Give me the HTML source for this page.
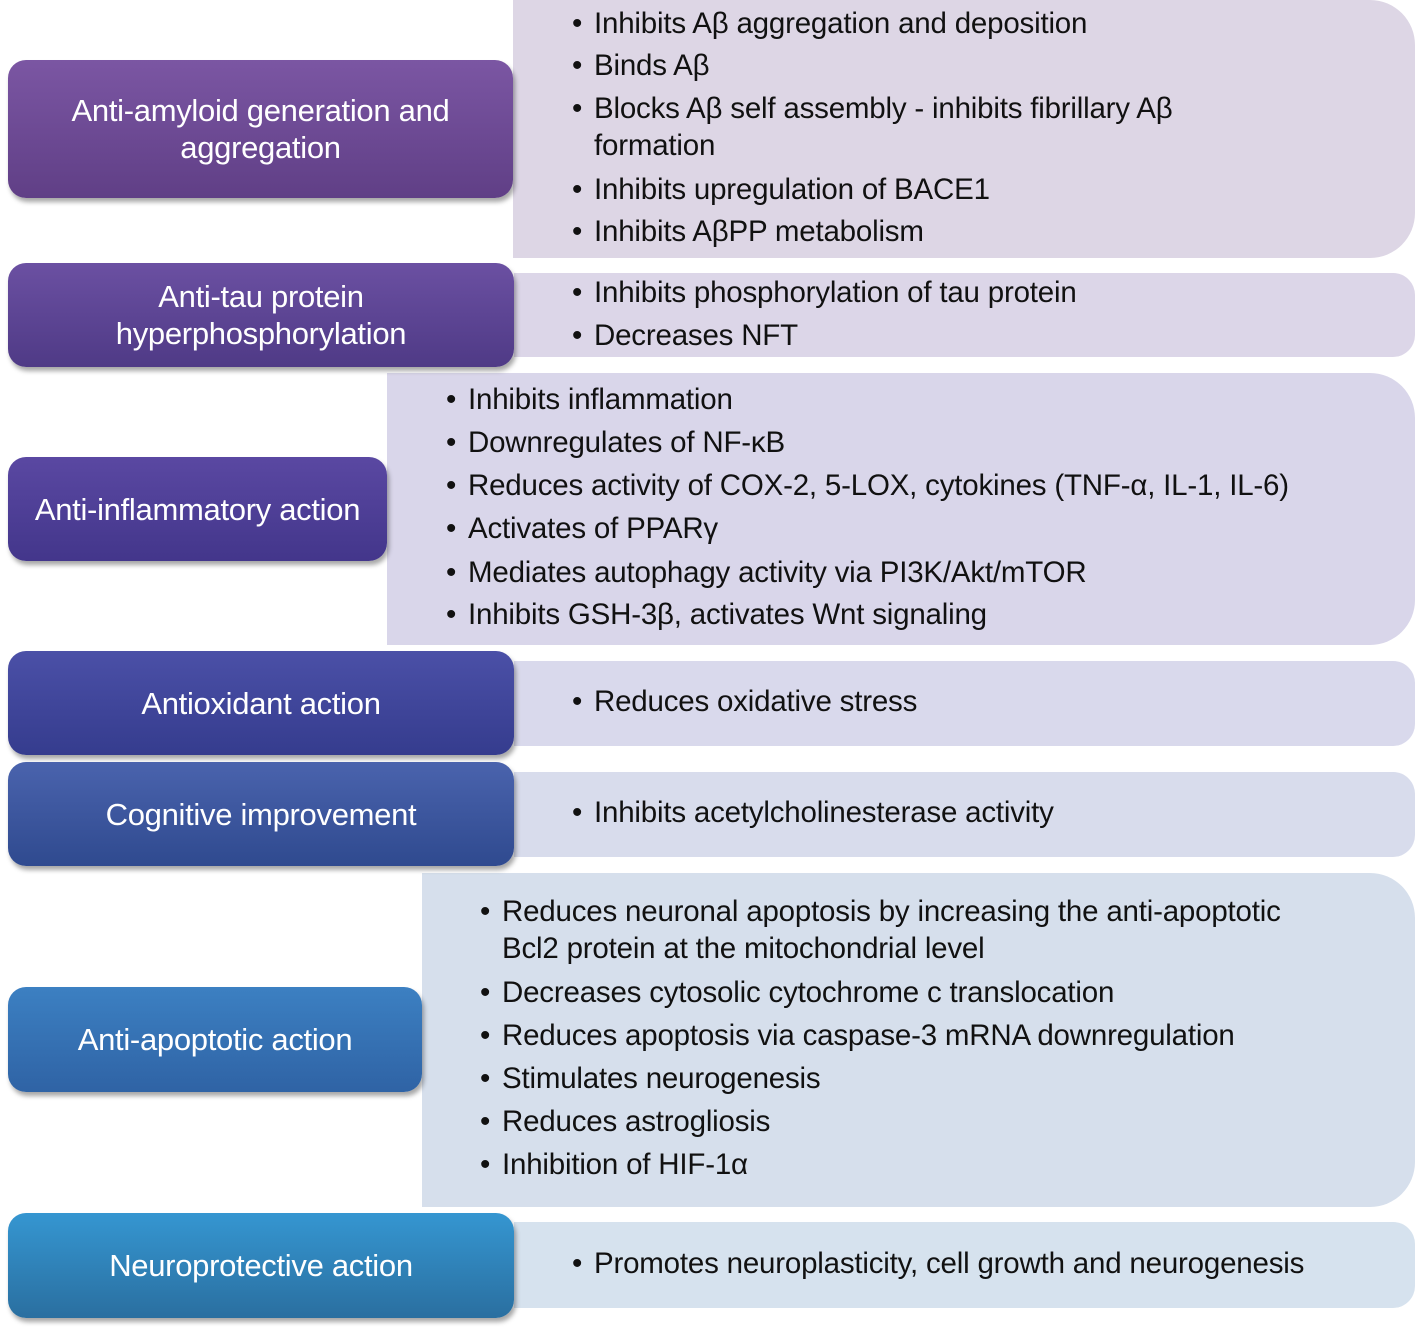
<!DOCTYPE html>
<html><head><meta charset="utf-8"><style>
body{margin:0;width:1417px;height:1329px;background:#fff;position:relative;overflow:hidden;font-family:"Liberation Sans","DejaVu Sans",sans-serif;}
.l{position:absolute;left:8px;border-radius:18px;color:#fff;display:flex;align-items:center;justify-content:center;text-align:center;font-size:31px;line-height:37px;box-shadow:2px 4px 5px rgba(0,0,0,0.35);z-index:2;letter-spacing:-0.3px}
.p{position:absolute;right:2px;border-radius:0 45px 45px 0;z-index:1}
.t{position:absolute;font-size:29.5px;color:#111;white-space:nowrap;z-index:3;letter-spacing:-0.2px;line-height:30px}
.t::before{content:"•";position:absolute;left:-22px}
.n::before{content:""}
</style></head><body>
<div class="p" style="left:513px;top:0;height:258px;background:#ddd6e5"></div>
<div class="l" style="top:60px;width:505px;height:138px;background:linear-gradient(#7b56a3,#603f86)">Anti-amyloid generation and<br>aggregation</div>
<div class="t" style="left:594px;top:9px">Inhibits Aβ aggregation and deposition</div>
<div class="t" style="left:594px;top:51px">Binds Aβ</div>
<div class="t" style="left:594px;top:94px">Blocks Aβ self assembly - inhibits fibrillary Aβ</div>
<div class="t n" style="left:594px;top:131px;">formation</div>
<div class="t" style="left:594px;top:175px">Inhibits upregulation of BACE1</div>
<div class="t" style="left:594px;top:217px">Inhibits AβPP metabolism</div>

<div class="p" style="left:514px;top:273px;height:84px;background:#dcd6e8;border-radius:0 22px 22px 0"></div>
<div class="l" style="top:263px;width:506px;height:104px;background:linear-gradient(#6b50a2,#4f3a86)">Anti-tau protein<br>hyperphosphorylation</div>
<div class="t" style="left:594px;top:278px">Inhibits phosphorylation of tau protein</div>
<div class="t" style="left:594px;top:321px">Decreases NFT</div>

<div class="p" style="left:387px;top:373px;height:272px;background:#d9d6ea"></div>
<div class="l" style="top:457px;width:379px;height:104px;background:linear-gradient(#5a48a2,#43368b)">Anti-inflammatory action</div>
<div class="t" style="left:468px;top:385px">Inhibits inflammation</div>
<div class="t" style="left:468px;top:428px">Downregulates of NF-κB</div>
<div class="t" style="left:468px;top:471px">Reduces activity of COX-2, 5-LOX, cytokines (TNF-α, IL-1, IL-6)</div>
<div class="t" style="left:468px;top:514px">Activates of PPARγ</div>
<div class="t" style="left:468px;top:558px">Mediates autophagy activity via PI3K/Akt/mTOR</div>
<div class="t" style="left:468px;top:600px">Inhibits GSH-3β, activates Wnt signaling</div>

<div class="p" style="left:514px;top:661px;height:85px;background:#d9d9ec;border-radius:0 22px 22px 0"></div>
<div class="l" style="top:651px;width:506px;height:104px;background:linear-gradient(#4b50a7,#353c8e)">Antioxidant action</div>
<div class="t" style="left:594px;top:687px">Reduces oxidative stress</div>

<div class="p" style="left:514px;top:772px;height:85px;background:#d8dcec;border-radius:0 22px 22px 0"></div>
<div class="l" style="top:762px;width:506px;height:104px;background:linear-gradient(#4a63ad,#2f4a8f)">Cognitive improvement</div>
<div class="t" style="left:594px;top:798px">Inhibits acetylcholinesterase activity</div>

<div class="p" style="left:422px;top:873px;height:334px;background:#d6dfec"></div>
<div class="l" style="top:987px;width:414px;height:105px;background:linear-gradient(#3c80c2,#2f63a5)">Anti-apoptotic action</div>
<div class="t" style="left:502px;top:897px">Reduces neuronal apoptosis by increasing the anti-apoptotic</div>
<div class="t n" style="left:502px;top:934px">Bcl2 protein at the mitochondrial level</div>
<div class="t" style="left:502px;top:978px">Decreases cytosolic cytochrome c translocation</div>
<div class="t" style="left:502px;top:1021px">Reduces apoptosis via caspase-3 mRNA downregulation</div>
<div class="t" style="left:502px;top:1064px">Stimulates neurogenesis</div>
<div class="t" style="left:502px;top:1107px">Reduces astrogliosis</div>
<div class="t" style="left:502px;top:1150px">Inhibition of HIF-1α</div>

<div class="p" style="left:514px;top:1222px;height:86px;background:#d6e2ee;border-radius:0 22px 22px 0"></div>
<div class="l" style="top:1213px;width:506px;height:105px;background:linear-gradient(#3596d1,#2a6fa0)">Neuroprotective action</div>
<div class="t" style="left:594px;top:1249px">Promotes neuroplasticity, cell growth and neurogenesis</div>
</body></html>
